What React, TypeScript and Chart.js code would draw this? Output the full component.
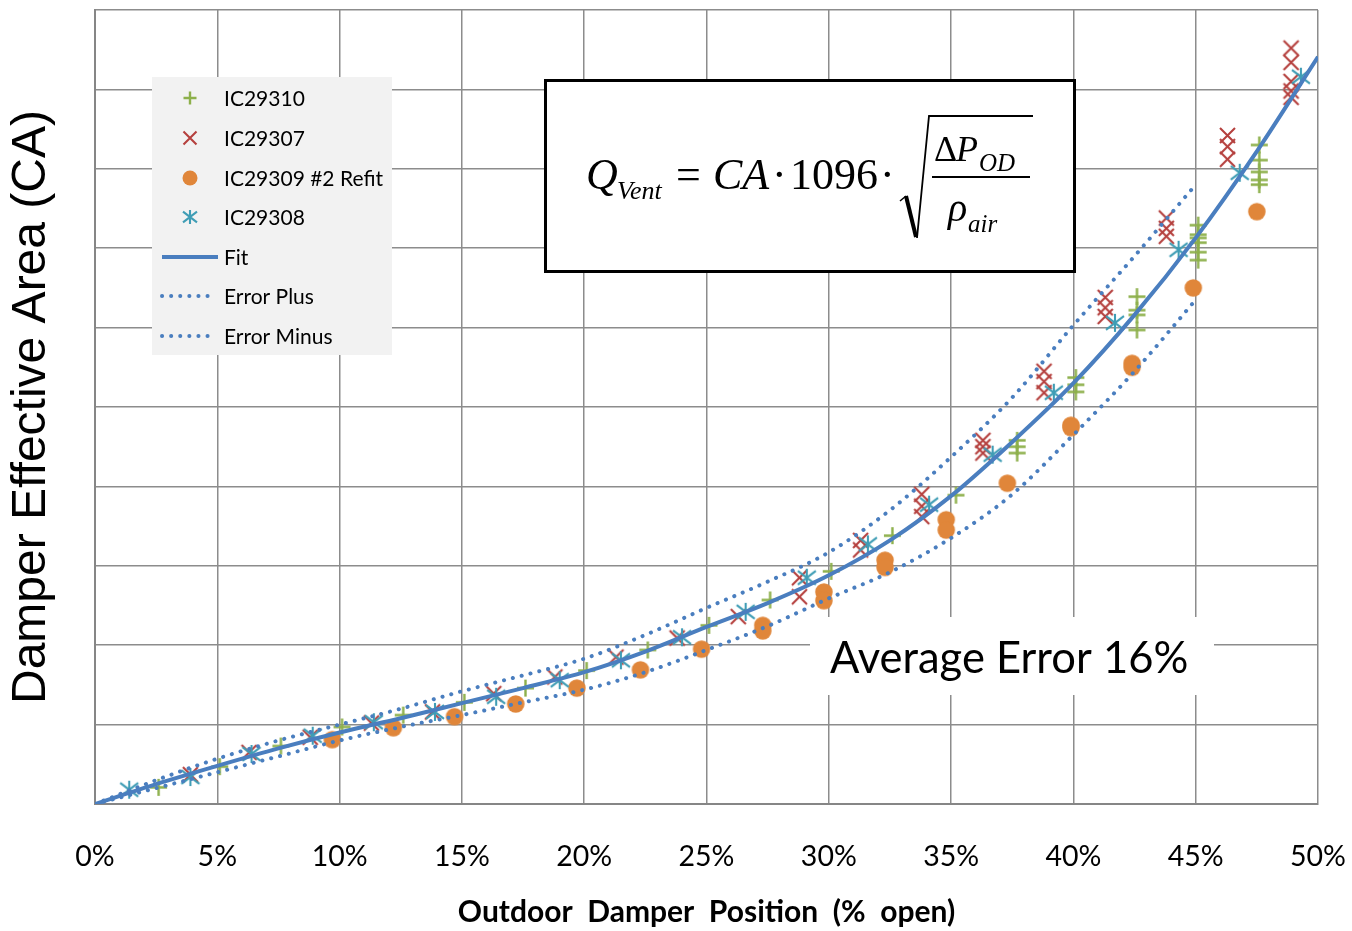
import React, { useEffect, useRef } from "react";
import { Chart, registerables } from "chart.js";

Chart.register(...registerables);

// ---------- data (x in % open, y in chart units) ----------
const xTickValues = [0, 5, 10, 15, 20, 25, 30, 35, 40, 45, 50];

const fitX = [0, 2.5, 5, 7.5, 10, 12.5, 15, 17.5, 20, 22.5, 25, 27.5, 30, 32.5, 35, 37.5, 40, 42.5, 45, 47.5, 50];
const fitY = [0, 0.25, 0.48, 0.7, 0.9, 1.08, 1.27, 1.46, 1.66, 1.92, 2.23, 2.53, 2.88, 3.32, 3.88, 4.56, 5.3, 6.16, 7.13, 8.22, 9.41];

const errPlusX = [0, 2.5, 5, 7.5, 10, 12.5, 15, 17.5, 20, 22.5, 25, 27.5, 30, 32.5, 35, 37.5, 40, 42.5, 45];
const errPlusY = [0, 0.3, 0.57, 0.8, 1.0, 1.2, 1.42, 1.62, 1.83, 2.13, 2.47, 2.8, 3.17, 3.7, 4.37, 5.12, 6.03, 6.9, 7.8];

const errMinusX = [0, 2.5, 5, 7.5, 10, 12.5, 15, 17.5, 20, 22.5, 25, 27.5, 30, 32.5, 35, 37.5, 40, 42.5, 45];
const errMinusY = [0, 0.2, 0.4, 0.6, 0.8, 0.97, 1.12, 1.28, 1.44, 1.66, 1.94, 2.24, 2.59, 2.92, 3.35, 3.9, 4.65, 5.45, 6.35];

const ic29310X = [2.6, 5.1, 7.6, 10.1, 12.6, 15.1, 17.6, 20.1, 22.6, 25.1, 27.6, 30.1, 32.6, 35.2, 37.7, 37.7, 37.7, 40.1, 40.1, 40.1, 42.6, 42.6, 42.6, 42.6, 45.1, 45.1, 45.1, 45.1, 45.1, 45.1, 47.6, 47.6, 47.6, 47.6, 47.6];
const ic29310Y = [0.21, 0.47, 0.73, 0.97, 1.12, 1.28, 1.46, 1.68, 1.94, 2.25, 2.57, 2.93, 3.38, 3.89, 4.58, 4.5, 4.42, 5.37, 5.28, 5.19, 6.39, 6.22, 6.16, 5.97, 7.29, 7.17, 7.13, 7.07, 6.95, 6.85, 8.3, 8.11, 7.96, 7.86, 7.8];

const ic29307X = [3.9, 6.3, 8.8, 11.3, 13.8, 16.3, 18.8, 21.3, 23.8, 26.3, 28.8, 28.8, 31.3, 31.3, 33.8, 33.8, 33.8, 36.3, 36.3, 36.3, 38.8, 38.8, 38.8, 41.3, 41.3, 41.3, 43.8, 43.8, 43.8, 46.3, 46.3, 46.3, 48.9, 48.9, 48.9, 48.9, 48.9];
const ic29307Y = [0.37, 0.65, 0.84, 1.02, 1.16, 1.39, 1.6, 1.85, 2.09, 2.36, 2.85, 2.61, 3.32, 3.2, 3.9, 3.75, 3.62, 4.58, 4.5, 4.42, 5.45, 5.32, 5.18, 6.38, 6.25, 6.14, 7.38, 7.25, 7.15, 8.42, 8.28, 8.12, 9.52, 9.34, 9.1, 8.98, 8.9];

const ic29309X = [9.7, 12.2, 14.7, 17.2, 19.7, 22.3, 24.8, 27.3, 27.3, 29.8, 29.8, 32.3, 32.3, 34.8, 34.8, 37.3, 39.9, 39.9, 42.4, 42.4, 44.9, 47.5];
const ic29309Y = [0.81, 0.96, 1.1, 1.26, 1.46, 1.69, 1.95, 2.25, 2.18, 2.67, 2.56, 3.07, 2.98, 3.58, 3.45, 4.04, 4.77, 4.74, 5.55, 5.5, 6.5, 7.46];

const ic29308X = [1.4, 3.9, 6.4, 8.9, 11.4, 13.9, 16.4, 19.0, 21.5, 24.0, 26.6, 29.1, 31.6, 34.1, 36.7, 39.2, 41.7, 44.3, 46.8, 49.3];
const ic29308Y = [0.18, 0.34, 0.63, 0.86, 1.03, 1.16, 1.35, 1.56, 1.81, 2.1, 2.42, 2.85, 3.27, 3.77, 4.4, 5.18, 6.06, 6.98, 7.95, 9.16];

const legendLabels = ["IC29310", "IC29307", "IC29309 #2 Refit", "IC29308", "Fit", "Error Plus", "Error Minus"];

// ---------- styles ----------
const GREEN = "#8DB04B";
const RED = "#B5403E";
const ORANGE = "#E0863A";
const TEAL = "#3F9DB5";
const BLUE = "#4A7EBF";
const GRID = "#8c8c8c";

type Ctx = CanvasRenderingContext2D;

function drawPlus(ctx: Ctx, cx: number, cy: number, s: number) {
  ctx.save();
  ctx.strokeStyle = GREEN;
  ctx.lineWidth = 2.4;
  ctx.beginPath();
  ctx.moveTo(cx - s / 2, cy);
  ctx.lineTo(cx + s / 2, cy);
  ctx.moveTo(cx, cy - s / 2);
  ctx.lineTo(cx, cy + s / 2);
  ctx.stroke();
  ctx.restore();
}
function drawX(ctx: Ctx, cx: number, cy: number, s: number) {
  ctx.save();
  ctx.strokeStyle = RED;
  ctx.lineWidth = 2.1;
  ctx.beginPath();
  ctx.moveTo(cx - s / 2, cy - s / 2);
  ctx.lineTo(cx + s / 2, cy + s / 2);
  ctx.moveTo(cx + s / 2, cy - s / 2);
  ctx.lineTo(cx - s / 2, cy + s / 2);
  ctx.stroke();
  ctx.restore();
}
function drawDot(ctx: Ctx, cx: number, cy: number, s: number) {
  ctx.save();
  ctx.fillStyle = ORANGE;
  ctx.beginPath();
  ctx.arc(cx, cy, s / 2, 0, Math.PI * 2);
  ctx.fill();
  ctx.restore();
}
function drawAst(ctx: Ctx, cx: number, cy: number, s: number) {
  ctx.save();
  ctx.strokeStyle = TEAL;
  ctx.lineWidth = 2.1;
  ctx.beginPath();
  ctx.moveTo(cx, cy - s / 2);
  ctx.lineTo(cx, cy + s / 2);
  ctx.moveTo(cx - s / 2, cy - s / 2.6);
  ctx.lineTo(cx + s / 2, cy + s / 2.6);
  ctx.moveTo(cx + s / 2, cy - s / 2.6);
  ctx.lineTo(cx - s / 2, cy + s / 2.6);
  ctx.stroke();
  ctx.restore();
}

function makeMarker(draw: (c: Ctx, x: number, y: number, s: number) => void, s: number) {
  const c = document.createElement("canvas");
  const size = Math.ceil(s + 4);
  c.width = size;
  c.height = size;
  const ctx = c.getContext("2d") as Ctx;
  draw(ctx, size / 2, size / 2, s);
  return c;
}

const pts = (xs: number[], ys: number[]) => xs.map((x, i) => ({ x, y: ys[i] }));

const overlayPlugin = {
  id: "overlay",
  beforeDatasetsDraw(chart: any) {
    const ctx: Ctx = chart.ctx;
    ctx.save();
    ctx.fillStyle = "#ffffff";
    ctx.fillRect(810, 617, 404, 78);
    ctx.fillStyle = "#000";
    ctx.font = "43.5px Lato";
    ctx.textBaseline = "alphabetic";
    ctx.textAlign = "left";
    ctx.fillText("Average Error 16%", 830, 673);
    ctx.restore();
  },
  afterDraw(chart: any) {
    const ctx: Ctx = chart.ctx;
    ctx.save();
    // ----- legend -----
    ctx.fillStyle = "#f2f2f2";
    ctx.fillRect(152, 77, 240, 278);
    const rowY = [98, 138, 178, 217, 257, 296, 336];
    drawPlus(ctx, 190, rowY[0], 13);
    drawX(ctx, 190, rowY[1], 13);
    drawDot(ctx, 190, rowY[2], 15);
    drawAst(ctx, 190, rowY[3], 14);
    ctx.strokeStyle = BLUE;
    ctx.lineWidth = 4;
    ctx.lineCap = "butt";
    ctx.beginPath();
    ctx.moveTo(162, rowY[4]);
    ctx.lineTo(218, rowY[4]);
    ctx.stroke();
    ctx.lineCap = "round";
    ctx.setLineDash([0.1, 9]);
    [rowY[5], rowY[6]].forEach((y) => {
      ctx.beginPath();
      ctx.moveTo(162, y);
      ctx.lineTo(214, y);
      ctx.stroke();
    });
    ctx.setLineDash([]);
    ctx.fillStyle = "#000";
    ctx.font = "21px Lato";
    ctx.textBaseline = "middle";
    legendLabels.forEach((t, i) => ctx.fillText(t, 224, rowY[i] + 1));

    // ----- formula box -----
    ctx.fillStyle = "#fff";
    ctx.fillRect(545, 80, 530, 192);
    ctx.strokeStyle = "#000";
    ctx.lineWidth = 3;
    ctx.strokeRect(545.5, 80.5, 529, 191);
    ctx.fillStyle = "#000";
    ctx.textBaseline = "alphabetic";
    const serif = '"Liberation Serif", "DejaVu Serif", serif';
    ctx.font = `italic 44px ${serif}`;
    ctx.fillText("Q", 586, 189);
    ctx.font = `italic 26px ${serif}`;
    ctx.fillText("Vent", 617, 199);
    ctx.font = `44px ${serif}`;
    ctx.fillText("=", 676, 189);
    ctx.font = `italic 44px ${serif}`;
    ctx.fillText("CA", 713, 189);
    ctx.font = `44px ${serif}`;
    ctx.fillText("\u00B7", 772, 189);
    ctx.fillText("1096", 790, 189);
    ctx.fillText("\u00B7", 880, 189);
    // radical
    ctx.lineCap = "butt";
    ctx.lineJoin = "miter";
    ctx.lineWidth = 1.5;
    ctx.beginPath();
    ctx.moveTo(900, 201);
    ctx.lineTo(906, 196);
    ctx.stroke();
    ctx.lineWidth = 4;
    ctx.beginPath();
    ctx.moveTo(906, 196);
    ctx.lineTo(916, 237);
    ctx.stroke();
    ctx.lineWidth = 1.8;
    ctx.beginPath();
    ctx.moveTo(917, 238);
    ctx.lineTo(929, 116);
    ctx.lineTo(1033, 116);
    ctx.stroke();
    // numerator
    ctx.font = `36px ${serif}`;
    ctx.fillText("\u0394", 934, 161);
    ctx.font = `italic 36px ${serif}`;
    ctx.fillText("P", 956, 161);
    ctx.font = `italic 25px ${serif}`;
    ctx.fillText("OD", 979, 171);
    // fraction bar
    ctx.lineWidth = 2;
    ctx.beginPath();
    ctx.moveTo(932, 177);
    ctx.lineTo(1030, 177);
    ctx.stroke();
    // denominator
    ctx.font = `italic 40px ${serif}`;
    ctx.fillText("\u03C1", 948, 221);
    ctx.font = `italic 25px ${serif}`;
    ctx.fillText("air", 968, 232);
    ctx.restore();
  },
};

export default function App() {
  const canvasRef = useRef<HTMLCanvasElement | null>(null);

  useEffect(() => {
    document.body.style.margin = "0";
    let chart: Chart | null = null;
    let cancelled = false;

    const build = () => {
      if (cancelled || !canvasRef.current) return;
      const plusC = makeMarker(drawPlus, 17);
      const xC = makeMarker(drawX, 15);
      const dotC = makeMarker(drawDot, 17.5);
      const astC = makeMarker(drawAst, 18);

      const lineCommon = {
        showLine: true,
        pointRadius: 0,
        pointHoverRadius: 0,
        borderColor: BLUE,
        backgroundColor: BLUE,
        cubicInterpolationMode: "monotone" as const,
        fill: false,
        order: 0,
      };

      chart = new Chart(canvasRef.current, {
        type: "scatter",
        data: {
          datasets: [
            { ...lineCommon, label: "Fit", data: pts(fitX, fitY), borderWidth: 4 },
            {
              ...lineCommon,
              label: "Error Plus",
              data: pts(errPlusX, errPlusY),
              borderWidth: 4,
              borderDash: [0.1, 9],
              borderCapStyle: "round",
            },
            {
              ...lineCommon,
              label: "Error Minus",
              data: pts(errMinusX, errMinusY),
              borderWidth: 4,
              borderDash: [0.1, 9],
              borderCapStyle: "round",
            },
            { label: "IC29308", data: pts(ic29308X, ic29308Y), pointStyle: astC, pointRadius: 8, order: 1 },
            { label: "IC29309 #2 Refit", data: pts(ic29309X, ic29309Y), pointStyle: dotC, pointRadius: 8, order: 2 },
            { label: "IC29307", data: pts(ic29307X, ic29307Y), pointStyle: xC, pointRadius: 8, order: 3 },
            { label: "IC29310", data: pts(ic29310X, ic29310Y), pointStyle: plusC, pointRadius: 8, order: 4 },
          ] as any,
        },
        options: {
          responsive: false,
          maintainAspectRatio: false,
          animation: false,
          layout: { padding: { top: 10, right: 34, left: 0, bottom: 0 } },
          plugins: { legend: { display: false }, tooltip: { enabled: false } },
          scales: {
            x: {
              type: "linear",
              min: 0,
              max: 50,
              afterBuildTicks: (scale: any) => {
                scale.ticks = xTickValues.map((v) => ({ value: v }));
              },
              ticks: {
                callback: (v: any) => `${v}%`,
                font: { family: "Lato", size: 28.5 },
                color: "#000",
                padding: 36,
                maxRotation: 0,
                autoSkip: false,
              },
              grid: { color: GRID, lineWidth: 1.5, drawTicks: false },
              border: { color: "#868686", width: 2 },
              title: {
                display: true,
                text: "Outdoor  Damper  Position  (%  open)",
                font: { family: "Lato", size: 30, weight: "bold" },
                color: "#000",
                padding: { top: 0, bottom: 1 },
              },
              afterFit: (s: any) => {
                s.height = 127;
                s.paddingLeft = 0;
                s.paddingRight = 0;
              },
            },
            y: {
              type: "linear",
              min: 0,
              max: 10,
              ticks: { stepSize: 1, display: false },
              grid: { color: GRID, lineWidth: 1.5, drawTicks: false },
              border: { color: "#868686", width: 2 },
              title: {
                display: true,
                text: "Damper Effective Area (CA)",
                font: { family: '"Liberation Sans", Arial, sans-serif', size: 48 },
                color: "#000",
                padding: { top: 3, bottom: 0 },
              },
              afterFit: (s: any) => {
                s.width = 95;
                s.paddingTop = 0;
                s.paddingBottom = 0;
              },
            },
          },
        } as any,
        plugins: [overlayPlugin],
      });
    };

    const fonts = (document as any).fonts;
    if (fonts && fonts.load) {
      Promise.all([
        fonts.load("28px Lato"),
        fonts.load("bold 28px Lato"),
        fonts.load('46px "Liberation Sans"'),
        fonts.load('44px "Liberation Serif"'),
        fonts.load('italic 44px "Liberation Serif"'),
      ])
        .catch(() => null)
        .then(build);
    } else {
      build();
    }

    return () => {
      cancelled = true;
      if (chart) chart.destroy();
    };
  }, []);

  return (
    <div style={{ width: 1352, height: 931, background: "#fff" }}>
      <canvas ref={canvasRef} width={1352} height={931} style={{ display: "block" }} />
    </div>
  );
}
